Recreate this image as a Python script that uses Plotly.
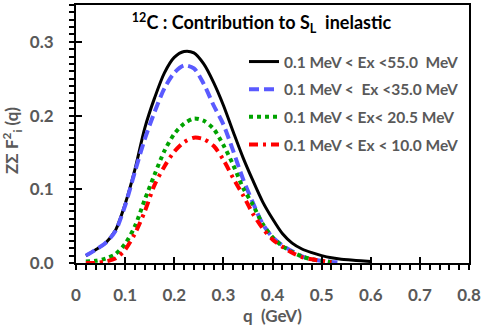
import plotly.graph_objects as go

q_black = [0.02, 0.04, 0.06, 0.08, 0.10, 0.12, 0.14, 0.16, 0.18, 0.20, 0.22, 0.24, 0.26, 0.28, 0.30,
           0.32, 0.34, 0.36, 0.38, 0.40, 0.42, 0.44, 0.46, 0.48, 0.50, 0.52, 0.54, 0.56, 0.58, 0.60]
v_black = [0.010, 0.018, 0.027, 0.044, 0.080, 0.127, 0.183, 0.224, 0.258, 0.279, 0.287, 0.285, 0.270, 0.245, 0.214,
           0.178, 0.143, 0.112, 0.083, 0.060, 0.040, 0.027, 0.019, 0.014, 0.010, 0.007, 0.005, 0.004, 0.003, 0.002]

q_blue = [0.02, 0.04, 0.06, 0.08, 0.10, 0.12, 0.14, 0.16, 0.18, 0.20, 0.22, 0.24, 0.26, 0.28, 0.30,
          0.32, 0.34, 0.36, 0.38, 0.40, 0.42, 0.44, 0.46, 0.48, 0.50, 0.52, 0.54]
v_blue = [0.010, 0.018, 0.027, 0.043, 0.078, 0.124, 0.168, 0.205, 0.237, 0.258, 0.268, 0.264, 0.243, 0.214, 0.188,
          0.152, 0.114, 0.082, 0.053, 0.035, 0.024, 0.016, 0.009, 0.005, 0.003, 0.0015, 0.0005]

q_green = [0.02, 0.04, 0.06, 0.08, 0.10, 0.12, 0.14, 0.16, 0.18, 0.20, 0.22, 0.24, 0.26, 0.28, 0.30,
           0.32, 0.34, 0.36, 0.38, 0.40, 0.42, 0.44, 0.46, 0.48, 0.50, 0.52]
v_green = [0.002, 0.003, 0.006, 0.012, 0.026, 0.050, 0.086, 0.120, 0.152, 0.175, 0.189, 0.196, 0.193, 0.182, 0.160,
           0.133, 0.102, 0.079, 0.053, 0.035, 0.023, 0.015, 0.009, 0.005, 0.003, 0.001]

q_red = [0.02, 0.04, 0.06, 0.08, 0.10, 0.12, 0.14, 0.16, 0.18, 0.20, 0.22, 0.24, 0.26, 0.28, 0.30,
         0.32, 0.34, 0.36, 0.38, 0.40, 0.42, 0.44, 0.46, 0.48, 0.50, 0.52]
v_red = [0.000, 0.000, 0.002, 0.006, 0.018, 0.040, 0.070, 0.106, 0.131, 0.151, 0.164, 0.170, 0.168, 0.159, 0.140,
         0.115, 0.092, 0.067, 0.047, 0.032, 0.022, 0.014, 0.008, 0.005, 0.003, 0.001]

names = ["0.1 MeV < Ex <55.0  MeV", "0.1 MeV <  Ex <35.0 MeV",
         "0.1 MeV < Ex< 20.5 MeV", "0.1 MeV < Ex < 10.0 MeV"]

x_ticks = [0, 0.1, 0.2, 0.3, 0.4, 0.5, 0.6, 0.7, 0.8]
x_ticktext = ["0", "0.1", "0.2", "0.3", "0.4", "0.5", "0.6", "0.7", "0.8"]
y_ticks = [0.0, 0.1, 0.2, 0.3]
y_ticktext = ["0.0", "0.1", "0.2", "0.3"]

GREY = "#595959"
FONT = "Lato"

fig = go.Figure()
fig.add_trace(go.Scatter(x=q_black, y=v_black, mode="lines", name=names[0], legendgroup="a",
                         line=dict(color="black", width=3, shape="spline", smoothing=0.8)))
fig.add_trace(go.Scatter(x=q_blue, y=v_blue, mode="lines", name=names[1], legendgroup="b",
                         line=dict(color="#5a5aff", width=4, dash="10px,5px", shape="spline", smoothing=0.8)))
fig.add_trace(go.Scatter(x=q_green, y=v_green, mode="lines", name=names[2], legendgroup="c",
                         line=dict(color="#00a300", width=4, dash="4px,4px", shape="spline", smoothing=0.8)))
fig.add_trace(go.Scatter(x=q_red, y=v_red, mode="lines", name=names[3], legendgroup="d",
                         line=dict(color="#ff0000", width=4, dash="9px,5px,3px,5px", shape="spline", smoothing=0.8)))
# invisible trace to carry the inner-tick overlay axes
fig.add_trace(go.Scatter(x=[None], y=[None], xaxis="x2", yaxis="y2", showlegend=False,
                         hoverinfo="skip"))

tickfont = dict(family=FONT, size=17, color=GREY, weight="bold")

fig.update_layout(
    width=484, height=333,
    margin=dict(l=76, r=15, t=3, b=70),
    paper_bgcolor="white", plot_bgcolor="white",
    showlegend=True,
    legend=dict(x=0.4275, y=0.845, xanchor="left", yanchor="top",
                bgcolor="rgba(0,0,0,0)", font=dict(family=FONT, size=15.5, color=GREY, weight="bold"),
                tracegroupgap=4.5, traceorder="grouped"),
    title=dict(text="<sup>12</sup>C : Contribution to S<sub>L</sub>  inelastic",
               x=261.5 / 484, y=1 - 23 / 333, xanchor="center", yanchor="middle",
               font=dict(family=FONT, size=18, color="black", weight="bold")),
    xaxis=dict(range=[0, 0.8], tickvals=x_ticks, ticktext=x_ticktext,
               showline=True, linewidth=2, linecolor="black", mirror=True,
               ticks="outside", ticklen=5, tickwidth=2, tickcolor="black",
               minor=dict(dtick=0.02, tick0=0, ticks="outside", ticklen=5, tickwidth=1.5, tickcolor="black"),
               showgrid=False, zeroline=False, tickfont=tickfont, ticklabelstandoff=11,
               title=dict(text="q  (GeV)", font=tickfont, standoff=2)),
    yaxis=dict(range=[0, 0.35], tickvals=y_ticks, ticktext=y_ticktext,
               showline=True, linewidth=2, linecolor="black", mirror=True,
               ticks="outside", ticklen=5, tickwidth=2, tickcolor="black",
               minor=dict(dtick=0.01, tick0=0, ticks="outside", ticklen=5, tickwidth=1.5, tickcolor="black"),
               showgrid=False, zeroline=False, tickfont=tickfont, ticklabelstandoff=12),
    xaxis2=dict(overlaying="x", anchor="y", side="bottom", range=[0, 0.8], tickvals=x_ticks,
                ticks="inside", ticklen=6, tickwidth=2, tickcolor="black",
                showticklabels=False, showline=False, showgrid=False, zeroline=False),
    yaxis2=dict(overlaying="y", anchor="x", side="left", range=[0, 0.35], tickvals=y_ticks,
                ticks="inside", ticklen=6, tickwidth=2, tickcolor="black",
                showticklabels=False, showline=False, showgrid=False, zeroline=False),
    annotations=[dict(text="ZΣ F<sup>2</sup><sub>i</sub> (q)", textangle=-90,
                      xref="paper", yref="paper", x=0, xshift=-64, y=(263 - 140) / 260,
                      xanchor="center", yanchor="middle", showarrow=False,
                      font=dict(family=FONT, size=17, color=GREY, weight="bold"))],
)

fig.write_html("out.html", config={"displayModeBar": False},
               post_script="document.body.style.margin='0';")
